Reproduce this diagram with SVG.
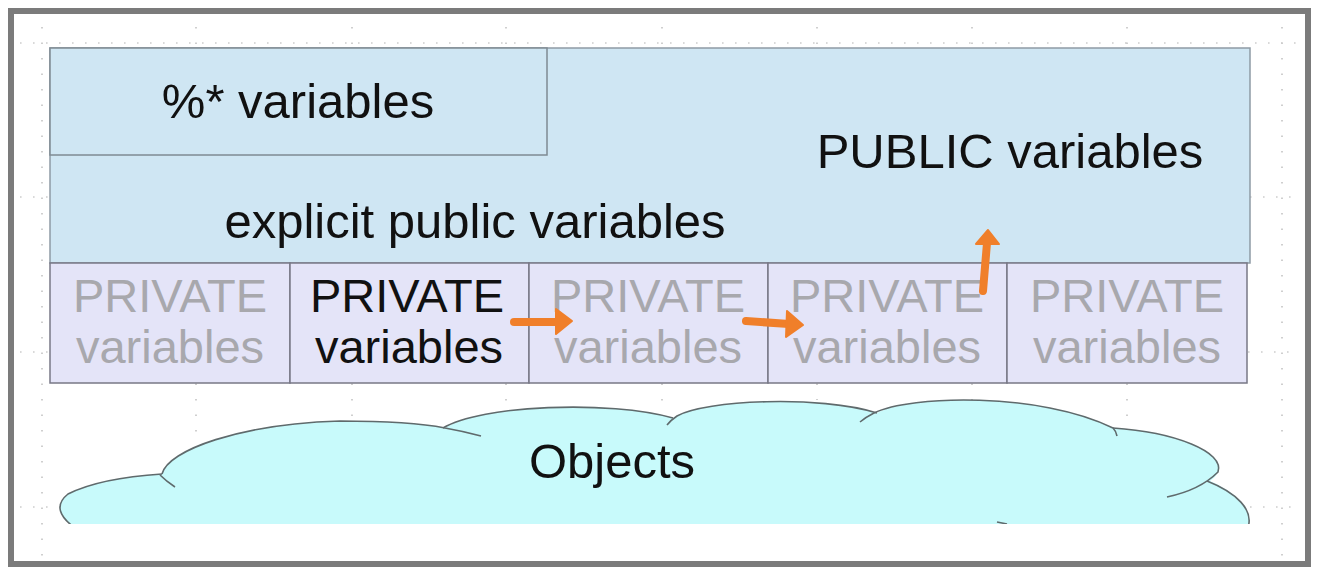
<svg xmlns="http://www.w3.org/2000/svg" width="1317" height="569" viewBox="0 0 1317 569">
<defs>
<style>
.t{font-family:"Liberation Sans",Arial,sans-serif;font-size:49px;}
.c{font-size:47px;}
.dk{fill:#111;}
.lt{fill:#a8a8ad;}
.vg{stroke:#c4c4c4;stroke-width:1.6;stroke-dasharray:1.6 13.9;fill:none;}
.hg{stroke:#cdcdcd;stroke-width:1.6;stroke-dasharray:1.6 11.4;fill:none;}
.cell{fill:#e4e4f8;stroke:#787886;stroke-width:1.5;}
.shaft{stroke:#f07f2a;stroke-width:8;fill:none;stroke-linecap:round;}
.head{fill:#f07f2a;stroke:#f07f2a;stroke-width:2;stroke-linejoin:round;}
.cl{fill:none;stroke:#5f6a6c;stroke-width:1.6;}
</style>
<clipPath id="cc"><rect x="0" y="0" width="1317" height="524"/></clipPath>
</defs>
<rect x="0" y="0" width="1317" height="569" fill="#ffffff"/>
<g id="frame">
<rect x="11" y="11" width="1297" height="553" fill="#ffffff" stroke="#7b7b7b" stroke-width="6"/>
</g>
<g id="guides">
<line class="vg" x1="42" y1="27" x2="42" y2="560"/>
<line class="vg" x1="1282" y1="27" x2="1282" y2="560"/>
<line class="vg" x1="196" y1="27" x2="196" y2="440"/>
<line class="vg" x1="352" y1="27" x2="352" y2="425"/>
<line class="vg" x1="506" y1="27" x2="506" y2="410"/>
<line class="vg" x1="662" y1="27" x2="662" y2="405"/>
<line class="vg" x1="817" y1="27" x2="817" y2="400"/>
<line class="vg" x1="972" y1="27" x2="972" y2="400"/>
<line class="vg" x1="1127" y1="27" x2="1127" y2="425"/>
<line class="hg" x1="20" y1="43" x2="1300" y2="43"/>
<line class="hg" x1="20" y1="197" x2="52" y2="197"/>
<line class="hg" x1="1250" y1="197" x2="1300" y2="197"/>
<line class="hg" x1="20" y1="352" x2="52" y2="352"/>
<line class="hg" x1="1248" y1="352" x2="1300" y2="352"/>
<line class="hg" x1="20" y1="507" x2="60" y2="507"/>
<line class="hg" x1="1250" y1="507" x2="1300" y2="507"/>
</g>
<g id="public">
<rect x="50" y="48" width="1200" height="215" fill="#cfe6f3" stroke="#8e9ba5" stroke-width="1.5"/>
<text class="t dk" x="1010" y="168" text-anchor="middle">PUBLIC variables</text>
<text class="t dk" x="475" y="238" text-anchor="middle">explicit public variables</text>
</g>
<g id="percent">
<rect x="50" y="48" width="497" height="107" fill="#cfe6f3" stroke="#7f8a93" stroke-width="1.5"/>
<text class="t dk" x="298" y="118" text-anchor="middle">%* variables</text>
</g>
<g id="private1">
<rect class="cell" x="50" y="263" width="240" height="120"/>
<text class="t c lt" x="170" y="312" text-anchor="middle">PRIVATE</text>
<text class="t c lt" x="170" y="363" text-anchor="middle">variables</text>
</g>
<g id="private2">
<rect class="cell" x="290" y="263" width="239" height="120"/>
<text class="t c dk" x="407" y="312" text-anchor="middle">PRIVATE</text>
<text class="t c dk" x="409" y="363" text-anchor="middle">variables</text>
</g>
<g id="private3">
<rect class="cell" x="529" y="263" width="239" height="120"/>
<text class="t c lt" x="648" y="312" text-anchor="middle">PRIVATE</text>
<text class="t c lt" x="648" y="363" text-anchor="middle">variables</text>
</g>
<g id="private4">
<rect class="cell" x="768" y="263" width="239" height="120"/>
<text class="t c lt" x="887" y="312" text-anchor="middle">PRIVATE</text>
<text class="t c lt" x="887" y="363" text-anchor="middle">variables</text>
</g>
<g id="private5">
<rect class="cell" x="1007" y="263" width="240" height="120"/>
<text class="t c lt" x="1127" y="312" text-anchor="middle">PRIVATE</text>
<text class="t c lt" x="1127" y="363" text-anchor="middle">variables</text>
</g>
<g id="objects">
<g clip-path="url(#cc)">
<path d="M78,530 Q48,510 68,494 Q100,478 162,474 C168,450 240,424 340,421 C390,421 425,424 445,428 C480,405 610,400 673,418 C700,400 820,395 877,413 C910,395 1040,392 1113,428 C1175,432 1225,452 1218,472 Q1216,477 1210,481 C1235,492 1256,510 1247,530 Z" fill="#c8fafb" stroke="none"/>
<path class="cl" d="M78,530 Q48,510 68,494 Q100,478 162,474"/>
<path class="cl" d="M160,475 Q166,481 175,487"/>
<path class="cl" d="M162,474 C168,450 240,424 340,421 C390,421 425,424 445,428 Q462,431 481,436"/>
<path class="cl" d="M443,428 C480,405 610,400 673,418"/>
<path class="cl" d="M667,425 Q671,420 677,416 C705,400 820,395 877,413"/>
<path class="cl" d="M860,422 Q866,417 874,413 C910,395 1040,392 1113,428 Q1116,431 1117,436"/>
<path class="cl" d="M1113,428 C1175,432 1225,452 1218,472 Q1200,490 1167,497"/>
<path class="cl" d="M1207,481 C1235,492 1256,510 1247,530"/>
<path class="cl" d="M997,522 L1007,524"/>
</g>
<text class="t dk" x="612" y="478" text-anchor="middle">Objects</text>
</g>
<g id="connectors">
<path class="shaft" d="M514,322 L558,322"/>
<path class="head" d="M556,309 L572,321 L556,334 Z"/>
<path class="shaft" d="M746,321 L789,324"/>
<path class="head" d="M787,311 L803,325 L786,337 Z"/>
<path class="shaft" d="M983,291 L987,243"/>
<path class="head" d="M976,244 L988,230 L999,244 Z"/>
</g>
</svg>
